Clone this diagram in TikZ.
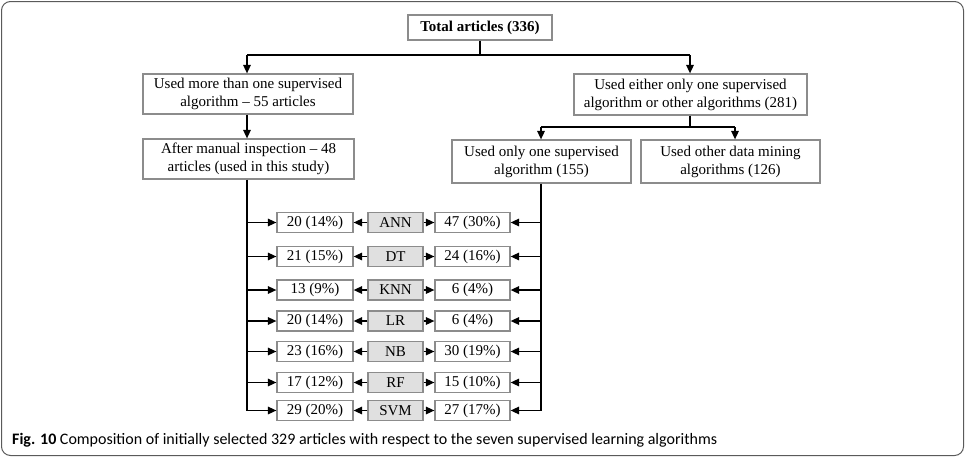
\documentclass[tikz,border=0pt]{standalone}
\usepackage{fontspec}
\setmainfont{Liberation Serif}
\newfontfamily\capfont{Carlito}
\usetikzlibrary{arrows.meta}
\definecolor{boxgray}{RGB}{140,140,140}
\definecolor{algfill}{RGB}{224,224,224}
\definecolor{framegray}{RGB}{90,90,90}
\begin{document}
\begin{tikzpicture}[x=1pt,y=-1pt,
  box/.style={draw=boxgray,line width=1.2pt,fill=white,inner sep=0pt,align=center,
     font=\fontsize{15}{18}\selectfont},
  valbox/.style={box,minimum height=20pt},
  algbox/.style={valbox,fill=algfill,minimum width=55pt},
  conn/.style={line width=1.5pt,black},
  arr/.style={conn,-{Triangle[length=8.5pt,width=7.5pt]}}
]
\useasboundingbox (0,0) rectangle (965,458);
\draw[framegray,line width=1pt,rounded corners=9pt] (1.5,1.5) rectangle (963.5,455.5);

% top levels
\node[box,minimum width=144pt,minimum height=25pt,font=\fontsize{15}{18}\selectfont\bfseries] (total) at (480,27.5) {Total articles (336)};
\node[box,minimum width=210pt,minimum height=40pt] (l1) at (248,94) {Used more than one supervised\\algorithm -- 55 articles};
\node[box,minimum width=233pt,minimum height=41pt] (r1) at (690.5,94.5) {Used either only one supervised\\algorithm or other algorithms (281)};
\node[box,minimum width=211pt,minimum height=40pt] (l2) at (248.5,159) {After manual inspection -- 48\\articles (used in this study)};
\node[box,minimum width=179pt,minimum height=43pt] (r2a) at (541.5,161.5) {Used only one supervised\\algorithm (155)};
\node[box,minimum width=179pt,minimum height=43pt] (r2b) at (730.5,161.5) {Used other data mining\\algorithms (126)};

\coordinate (j1) at (480,55);
\coordinate (j1l) at (247,55);
\coordinate (j1r) at (690,55);
\draw[conn] (total.south) -- (j1);
\draw[conn] (j1l) -- (j1r);
\draw[arr] (j1l) -- (l1.north -| j1l);
\draw[arr] (j1r) -- (r1.north -| j1r);
\draw[arr] (l1.south -| j1l) -- (l2.north -| j1l);

\coordinate (j2) at (690,127);
\coordinate (j2l) at (541,127);
\coordinate (j2r) at (735,127);
\draw[conn] (r1.south -| j2) -- (j2);
\draw[conn] (j2l) -- (j2r);
\draw[arr] (j2l) -- (r2a.north -| j2l);
\draw[arr] (j2r) -- (r2b.north -| j2r);

% rows
\foreach \i/\y/\alg/\lv/\rv in {1/222.5/ANN/20 (14\%)/47 (30\%),
                                2/256.5/DT/21 (15\%)/24 (16\%),
                                3/290/KNN/13 (9\%)/6 (4\%),
                                4/321/LR/20 (14\%)/6 (4\%),
                                5/351.5/NB/23 (16\%)/30 (19\%),
                                6/382.5/RF/17 (12\%)/15 (10\%),
                                7/410.5/SVM/29 (20\%)/27 (17\%)}{
  \node[valbox,minimum width=76pt] (lv\i) at (315,\y) {\lv};
  \node[algbox] (alg\i) at (395.5,\y) {\alg};
  \node[valbox,minimum width=75pt] (rv\i) at (472.5,\y) {\rv};
  \coordinate (sl\i) at (247,\y);
  \coordinate (sr\i) at (541,\y);
  \draw[arr] (sl\i) -- (lv\i.west);
  \draw[arr] (alg\i.west) -- (lv\i.east);
  \draw[arr] (alg\i.east) -- (rv\i.west);
  \draw[arr] (sr\i) -- (rv\i.east);
}
\draw[conn] (l2.south -| sl1) -- (sl7);
\draw[conn] (r2a.south -| sr1) -- (sr7);

% caption
\node[anchor=base west,inner sep=0pt,font=\capfont\fontsize{16}{18}\selectfont] (cap) at (12,444)
  {\textbf{Fig. 10} Composition of initially selected 329 articles with respect to the seven supervised learning algorithms};
\end{tikzpicture}
\end{document}
